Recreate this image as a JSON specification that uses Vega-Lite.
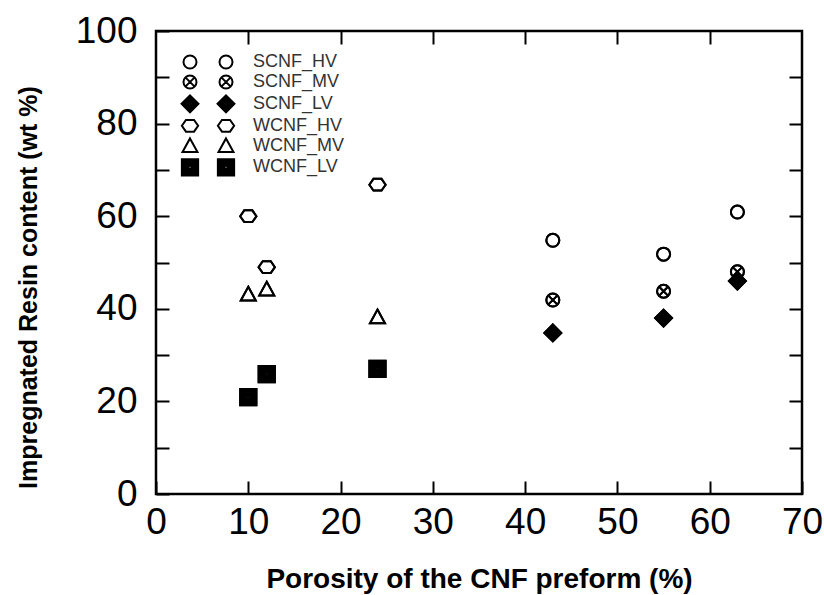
{
  "$schema": "https://vega.github.io/schema/vega-lite/v6.json",
  "width": 646,
  "height": 463,
  "autosize": {"type": "none"},
  "padding": {"left": 156, "top": 31, "right": 22, "bottom": 101},
  "background": "white",
  "config": {
    "view": {"stroke": "black", "strokeWidth": 2.5},
    "font": "Liberation Sans",
    "legend": {"symbolStrokeColor": "black", "symbolStrokeWidth": 2}
  },
  "data": {
    "values": [
      {"series": "SCNF_HV", "porosity": 43, "resin": 54.8},
      {"series": "SCNF_HV", "porosity": 55, "resin": 51.8},
      {"series": "SCNF_HV", "porosity": 63, "resin": 60.9},
      {"series": "SCNF_MV", "porosity": 43, "resin": 41.9},
      {"series": "SCNF_MV", "porosity": 55, "resin": 43.8},
      {"series": "SCNF_MV", "porosity": 63, "resin": 48.0},
      {"series": "SCNF_LV", "porosity": 43, "resin": 34.8},
      {"series": "SCNF_LV", "porosity": 55, "resin": 38.0},
      {"series": "SCNF_LV", "porosity": 63, "resin": 46.0},
      {"series": "WCNF_HV", "porosity": 10, "resin": 60.0},
      {"series": "WCNF_HV", "porosity": 12, "resin": 49.0},
      {"series": "WCNF_HV", "porosity": 24, "resin": 66.8},
      {"series": "WCNF_MV", "porosity": 10, "resin": 43.2},
      {"series": "WCNF_MV", "porosity": 12, "resin": 44.3},
      {"series": "WCNF_MV", "porosity": 24, "resin": 38.3},
      {"series": "WCNF_LV", "porosity": 10, "resin": 20.9},
      {"series": "WCNF_LV", "porosity": 12, "resin": 25.9},
      {"series": "WCNF_LV", "porosity": 24, "resin": 27.0}
    ]
  },
  "layer": [
    {
      "mark": {"type": "point", "filled": false, "color": "black", "stroke": "black", "strokeWidth": 2, "size": 169, "opacity": 1},
      "encoding": {
        "x": {
          "field": "porosity", "type": "quantitative",
          "scale": {"domain": [0, 70], "nice": false, "zero": false},
          "axis": {
            "orient": "bottom", "values": [0, 10, 20, 30, 40, 50, 60, 70],
            "domain": false, "grid": false,
            "tickSize": -13, "tickWidth": 2, "tickColor": "black",
            "labelFontSize": 37, "labelColor": "black", "labelPadding": 23,
            "labelFlush": false, "labelOverlap": false,
            "title": "Porosity of the CNF preform (%)",
            "titleFontSize": 28, "titleFontWeight": "bold", "titleColor": "black",
            "titleY": 85, "titleBaseline": "middle"
          }
        },
        "y": {
          "field": "resin", "type": "quantitative",
          "scale": {"domain": [0, 100], "nice": false, "zero": false},
          "axis": {
            "orient": "left", "values": [0, 10, 20, 30, 40, 50, 60, 70, 80, 90, 100],
            "labelExpr": "datum.value % 20 === 0 ? datum.label : ''",
            "domain": false, "grid": false,
            "tickSize": -13, "tickWidth": 2, "tickColor": "black",
            "labelFontSize": 37, "labelColor": "black", "labelPadding": 32,
            "labelFlush": false, "labelOverlap": false,
            "title": "Impregnated Resin content (wt %)",
            "titleFontSize": 25, "titleFontWeight": "bold", "titleColor": "black",
            "titleX": -128, "titleY": 256, "titleAngle": -90,
            "titleAlign": "center", "titleBaseline": "middle"
          }
        },
        "shape": {
          "field": "series", "type": "nominal",
          "scale": {
            "domain": ["SCNF_HV", "SCNF_MV", "SCNF_LV", "WCNF_HV", "WCNF_MV", "WCNF_LV"],
            "range": [
              "M-1,0A1,1 0 1,1 1,0A1,1 0 1,1 -1,0Z",
              "M-1,0A1,1 0 1,1 1,0A1,1 0 1,1 -1,0Z M-0.6,-0.6L0.6,0.6M-0.6,0.6L0.6,-0.6",
              "M0,-1.3L1.3,0L0,1.3L-1.3,0Z M0,-1L1,0L0,1L-1,0Z M0,-0.7L0.7,0L0,0.7L-0.7,0Z M0,-0.4L0.4,0L0,0.4L-0.4,0Z M-0.15,0L0.15,0",
              "M-1.25,0L-0.62,-0.9L0.62,-0.9L1.25,0L0.62,0.9L-0.62,0.9Z",
              "M0,-1.1L1.15,1.0L-1.15,1.0Z",
              "M-1.25,-1.25L1.25,-1.25L1.25,1.25L-1.25,1.25Z M-1,-1L1,-1L1,1L-1,1Z M-0.75,-0.75L0.75,-0.75L0.75,0.75L-0.75,0.75Z M-0.5,-0.5L0.5,-0.5L0.5,0.5L-0.5,0.5Z M-0.25,-0.25L0.25,-0.25L0.25,0.25L-0.25,0.25Z M-0.05,0L0.05,0"
            ]
          },
          "legend": {
            "orient": "none", "legendX": 25, "legendY": 22, "title": null,
            "padding": 0, "labelExpr": "' '", "labelFontSize": 18,
            "symbolSize": 169, "symbolStrokeWidth": 2, "symbolStrokeColor": "black",
            "rowPadding": -2.2
          }
        }
      }
    },
    {
      "mark": {"type": "point", "filled": false, "color": "black", "stroke": "black", "strokeWidth": 2, "size": 169, "opacity": 1},
      "encoding": {
        "x": {
          "field": "porosity", "type": "quantitative",
          "scale": {"domain": [0, 70], "nice": false, "zero": false},
          "axis": {
            "orient": "top", "values": [10, 20, 30, 40, 50, 60],
            "domain": false, "grid": false, "labels": false, "title": null,
            "tickSize": -13, "tickWidth": 2, "tickColor": "black"
          }
        },
        "y": {
          "field": "resin", "type": "quantitative",
          "scale": {"domain": [0, 100], "nice": false, "zero": false},
          "axis": {
            "orient": "right", "values": [10, 20, 30, 40, 50, 60, 70, 80, 90],
            "domain": false, "grid": false, "labels": false, "title": null,
            "tickSize": -13, "tickWidth": 2, "tickColor": "black"
          }
        },
        "shape": {
          "field": "series", "type": "nominal",
          "scale": {
            "domain": ["SCNF_HV", "SCNF_MV", "SCNF_LV", "WCNF_HV", "WCNF_MV", "WCNF_LV"],
            "range": [
              "M-1,0A1,1 0 1,1 1,0A1,1 0 1,1 -1,0Z",
              "M-1,0A1,1 0 1,1 1,0A1,1 0 1,1 -1,0Z M-0.6,-0.6L0.6,0.6M-0.6,0.6L0.6,-0.6",
              "M0,-1.3L1.3,0L0,1.3L-1.3,0Z M0,-1L1,0L0,1L-1,0Z M0,-0.7L0.7,0L0,0.7L-0.7,0Z M0,-0.4L0.4,0L0,0.4L-0.4,0Z M-0.15,0L0.15,0",
              "M-1.25,0L-0.62,-0.9L0.62,-0.9L1.25,0L0.62,0.9L-0.62,0.9Z",
              "M0,-1.1L1.15,1.0L-1.15,1.0Z",
              "M-1.25,-1.25L1.25,-1.25L1.25,1.25L-1.25,1.25Z M-1,-1L1,-1L1,1L-1,1Z M-0.75,-0.75L0.75,-0.75L0.75,0.75L-0.75,0.75Z M-0.5,-0.5L0.5,-0.5L0.5,0.5L-0.5,0.5Z M-0.25,-0.25L0.25,-0.25L0.25,0.25L-0.25,0.25Z M-0.05,0L0.05,0"
            ]
          },
          "legend": {
            "orient": "none", "legendX": 61, "legendY": 22, "title": null,
            "padding": 0, "labelFontSize": 18, "labelColor": "#333333",
            "labelFont": "Liberation Sans", "labelOffset": 18,
            "symbolSize": 169, "symbolStrokeWidth": 2, "symbolStrokeColor": "black",
            "rowPadding": -2.2
          }
        }
      }
    }
  ],
  "resolve": {
    "scale": {"shape": "independent"},
    "legend": {"shape": "independent"}
  }
}
